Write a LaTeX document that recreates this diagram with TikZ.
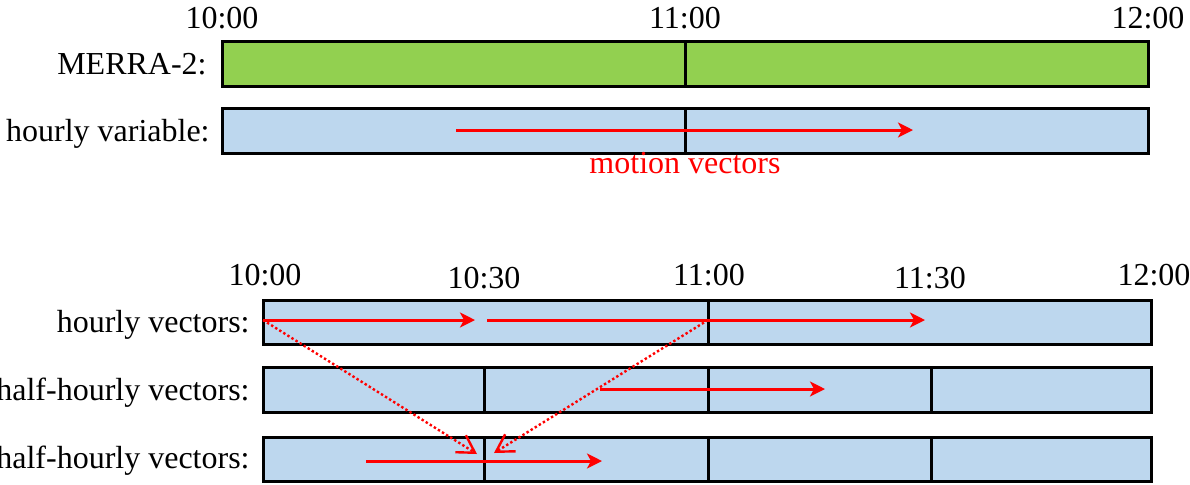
\documentclass[tikz,border=0pt]{standalone}
\usepackage{fontspec}
\setmainfont{Liberation Serif}
\usetikzlibrary{arrows.meta}
\definecolor{mgreen}{HTML}{92D050}
\definecolor{mblue}{HTML}{BDD7EE}
\definecolor{mred}{HTML}{FF0000}
\begin{document}
\begin{tikzpicture}[x=0.5pt,y=-0.5pt, font=\fontsize{16}{19}\selectfont,
 bar/.style={draw=black, line width=1.5pt},
 div/.style={draw=black, line width=1.5pt},
 vec/.style={draw=mred, line width=1.5pt, -{Stealth[length=7.5pt,width=7.5pt,inset=2pt]}},
 link/.style={draw=mred, line width=1.2pt, dash pattern=on 1.2pt off 1.2pt, -{Straight Barb[length=8.5pt,width=10pt,line width=1.2pt]}},
 lab/.style={anchor=base east, inner sep=0pt},
 tlab/.style={anchor=base, inner sep=0pt}]
\useasboundingbox (0,0) rectangle (1190,484);
% ---------- top part ----------
\node[tlab] (t1000) at (222,28) {10:00};
\node[tlab] (t1100) at (685,28) {11:00};
\node[tlab] (t1200) at (1148,28) {12:00};
\node[lab] (lmerra) at (207,74) {MERRA-2:};
\node[lab] (lhvar) at (210,141) {hourly variable:};
\filldraw[bar, fill=mgreen] (222,41) rectangle (1148,86);
\draw[div] (685,41) -- (685,86);
\filldraw[bar, fill=mblue] (222,108) rectangle (1148,153);
\draw[div] (685,108) -- (685,153);
\coordinate (mvA) at (456,130);
\coordinate (mvB) at (913,130);
\draw[vec] (mvA) -- (mvB);
\node[tlab, text=mred] (mvlab) at (685,173) {motion vectors};
% ---------- bottom part ----------
\node[tlab] (b1000) at (265,285) {10:00};
\node[tlab] (b1030) at (484,288) {10:30};
\node[tlab] (b1100) at (709,285) {11:00};
\node[tlab] (b1130) at (930,288) {11:30};
\node[tlab] (b1200) at (1154,285) {12:00};
\node[lab] (lhv) at (250,332) {hourly vectors:};
\node[lab] (lhh1) at (250,400) {half-hourly vectors:};
\node[lab] (lhh2) at (250,468) {half-hourly vectors:};
\filldraw[bar, fill=mblue] (263,300) rectangle (1151,344);
\draw[div] (708,300) -- (708,344);
\filldraw[bar, fill=mblue] (263,367) rectangle (1151,412);
\foreach \xx in {484,708,931} \draw[div] (\xx,367) -- (\xx,412);
\filldraw[bar, fill=mblue] (263,437) rectangle (1151,481);
\foreach \xx in {484,708,931} \draw[div] (\xx,437) -- (\xx,481);
% vectors
\coordinate (hA) at (263,320);
\coordinate (hB) at (475,320);
\coordinate (hC) at (487,320);
\coordinate (hD) at (925,320);
\coordinate (qA) at (600,389);
\coordinate (qB) at (825,389);
\coordinate (rA) at (366,461);
\coordinate (rB) at (602,461);
\coordinate (hM) at (708,320);
\coordinate (dL) at (477,454);
\coordinate (dR) at (494,453);
\draw[link] (hA) -- (dL);
\draw[link] (hM) -- (dR);
\draw[vec] (hA) -- (hB);
\draw[vec] (hC) -- (hD);
\draw[vec] (qA) -- (qB);
\draw[vec] (rA) -- (rB);
\end{tikzpicture}
\end{document}
